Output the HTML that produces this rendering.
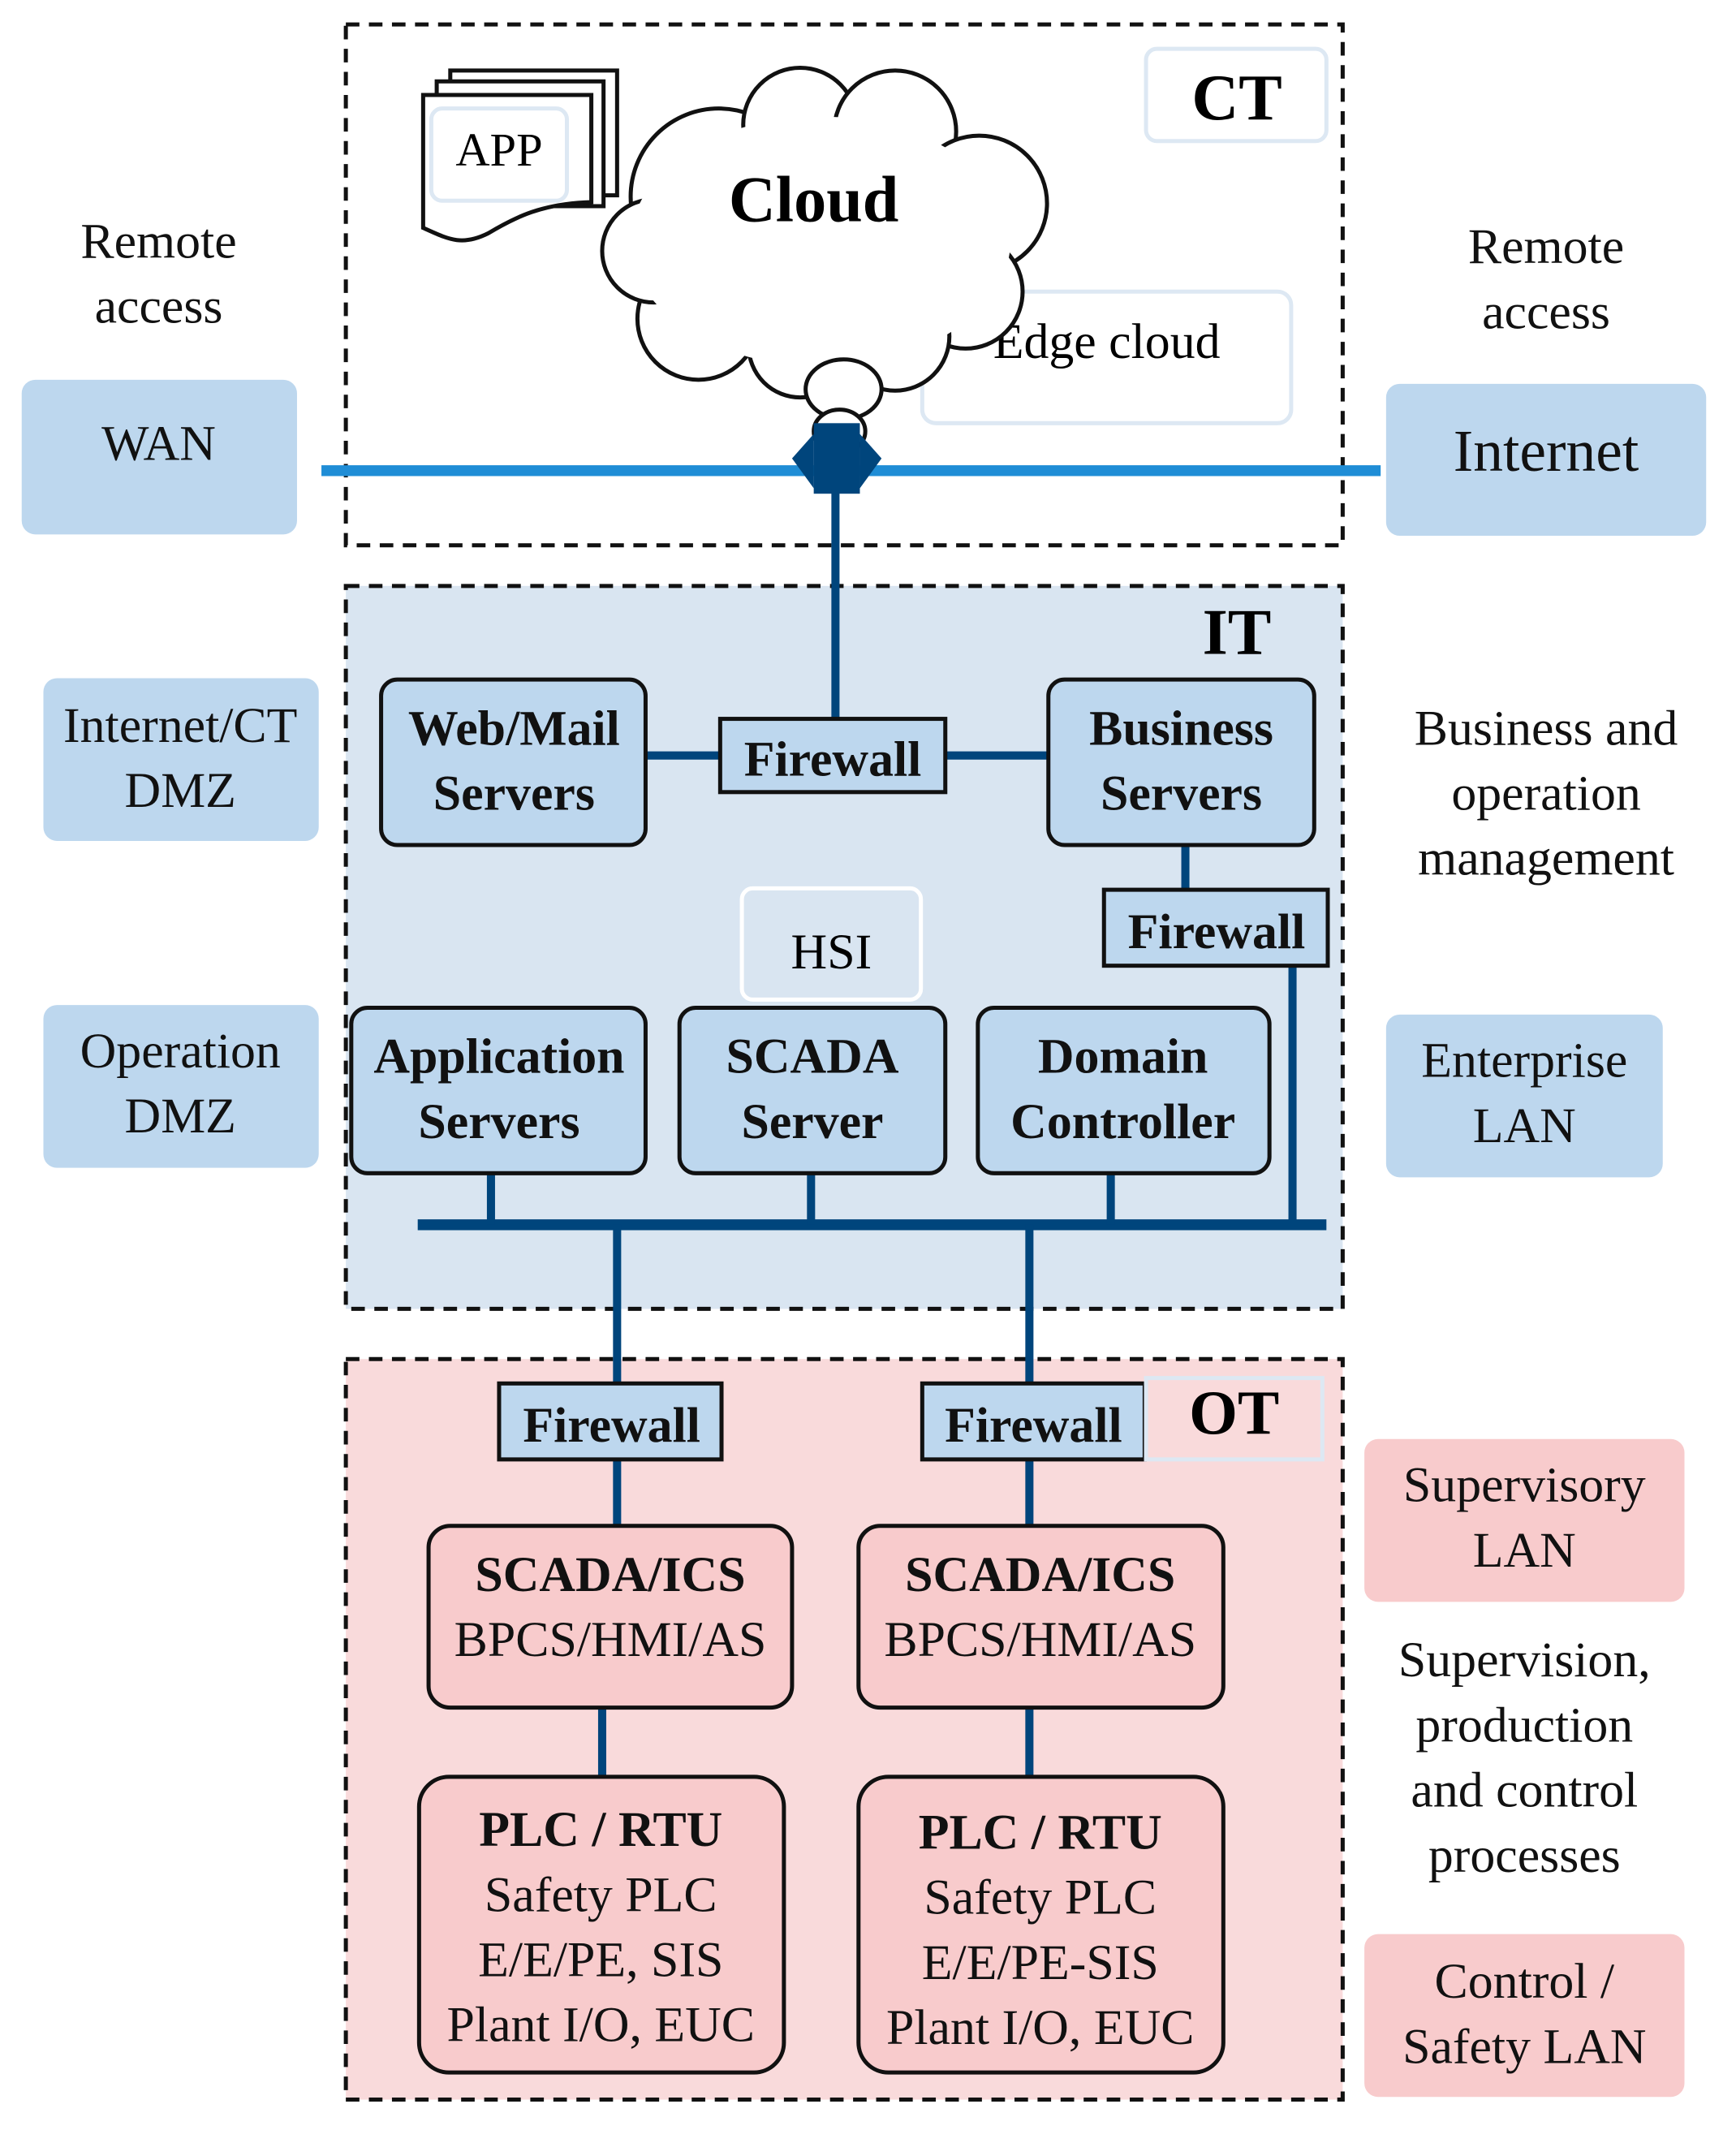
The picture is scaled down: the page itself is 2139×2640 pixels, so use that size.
<!DOCTYPE html>
<html><head><meta charset="utf-8"><style>html,body{margin:0;padding:0;background:#fff}svg{display:block}</style></head>
<body>
<svg width="2139" height="2640" viewBox="0 0 1280 1580" preserveAspectRatio="none" xmlns="http://www.w3.org/2000/svg" font-family="Liberation Serif, serif">
<!-- region boxes -->
<rect x="255" y="18" width="735" height="384" fill="#fff" stroke="#111" stroke-width="3" stroke-dasharray="10 7"/>
<rect x="255" y="432" width="735" height="533" fill="#d9e5f1" stroke="#111" stroke-width="3" stroke-dasharray="10 7"/>
<rect x="255" y="1002" width="735" height="546" fill="#f9dadb" stroke="#111" stroke-width="3" stroke-dasharray="10 7"/>

<!-- side labels -->
<g fill="#bdd7ee">
<rect x="16" y="280" width="203" height="114" rx="10"/>
<rect x="1022" y="283" width="236" height="112" rx="10"/>
<rect x="32" y="500" width="203" height="120" rx="10"/>
<rect x="32" y="741" width="203" height="120" rx="10"/>
<rect x="1022" y="748" width="204" height="120" rx="10"/>
</g>
<g fill="#f8cbcc">
<rect x="1006" y="1061" width="236" height="120" rx="10"/>
<rect x="1006" y="1426" width="236" height="120" rx="10"/>
</g>
<g font-size="37" text-anchor="middle" fill="#111">
<text x="117" y="190">Remote</text><text x="117" y="238">access</text>
<text x="1140" y="194">Remote</text><text x="1140" y="242">access</text>
<text x="117" y="339">WAN</text>
<text x="1140" y="347" font-size="44">Internet</text>
<text x="133" y="547">Internet/CT</text><text x="133" y="595">DMZ</text>
<text x="133" y="787">Operation</text><text x="133" y="835">DMZ</text>
<text x="1124" y="794">Enterprise</text><text x="1124" y="842">LAN</text>
<text x="1140" y="549">Business and</text><text x="1140" y="597">operation</text><text x="1140" y="645">management</text>
<text x="1124" y="1107">Supervisory</text><text x="1124" y="1155">LAN</text>
<text x="1124" y="1236">Supervision,</text><text x="1124" y="1284">production</text><text x="1124" y="1332">and control</text><text x="1124" y="1380">processes</text>
<text x="1124" y="1473">Control /</text><text x="1124" y="1521">Safety LAN</text>
</g>

<!-- CT contents -->
<rect x="845" y="36" width="133" height="68" rx="8" fill="#fff" stroke="#dde8f3" stroke-width="3"/>
<text x="912" y="88" font-size="48" font-weight="bold" text-anchor="middle">CT</text>
<rect x="680" y="215" width="272" height="97" rx="10" fill="#fff" stroke="#dde8f3" stroke-width="3"/>
<text x="816" y="264" font-size="37" text-anchor="middle">Edge cloud</text>
<!-- app pages -->
<rect x="332" y="52" width="123" height="92" fill="#fff" stroke="#111" stroke-width="3"/>
<rect x="322" y="60" width="123" height="92" fill="#fff" stroke="#111" stroke-width="3"/>
<path d="M312,70 H436 V149 C400,150 380,160 360,172 C340,182 330,176 312,168 Z" fill="#fff" stroke="#111" stroke-width="3"/>
<rect x="318" y="80" width="100" height="68" rx="8" fill="#fff" stroke="#dde8f3" stroke-width="3"/>
<text x="368" y="122" font-size="35" text-anchor="middle">APP</text>
<!-- cloud -->
<g fill="#fff" stroke="#111" stroke-width="3">
<circle cx="530" cy="145" r="65"/><circle cx="590" cy="92" r="42"/><circle cx="660" cy="97" r="45"/>
<circle cx="722" cy="150" r="50"/><circle cx="712" cy="215" r="42"/><circle cx="660" cy="248" r="40"/>
<circle cx="590" cy="255" r="38"/><circle cx="515" cy="235" r="45"/><circle cx="482" cy="185" r="38"/>
</g>
<ellipse cx="605" cy="178" rx="140" ry="92" fill="#fff"/>
<ellipse cx="622" cy="287" rx="28" ry="22" fill="#fff" stroke="#111" stroke-width="3"/>
<ellipse cx="619" cy="318" rx="19" ry="16" fill="#fff" stroke="#111" stroke-width="3"/>
<text x="600" y="163" font-size="48" font-weight="bold" text-anchor="middle">Cloud</text>
<!-- network line -->
<line x1="237" y1="347" x2="1018" y2="347" stroke="#1f8dd6" stroke-width="8"/>
<g fill="#00457c">
<rect x="600" y="312" width="34" height="52"/>
<polygon points="600,320 584,338 600,360"/><polygon points="634,320 650,338 634,360"/>
</g>
<g stroke="#00457c" stroke-width="6" fill="none">
<line x1="616" y1="360" x2="616" y2="530"/>
<line x1="476" y1="557" x2="531" y2="557"/><line x1="697" y1="557" x2="773" y2="557"/>
<line x1="874" y1="623" x2="874" y2="656"/>
<line x1="953" y1="712" x2="953" y2="903"/>
<line x1="308" y1="903" x2="978" y2="903" stroke-width="8"/>
<line x1="362" y1="865" x2="362" y2="903"/><line x1="598" y1="865" x2="598" y2="903"/><line x1="819" y1="865" x2="819" y2="903"/>
<line x1="455" y1="903" x2="455" y2="1020"/><line x1="759" y1="903" x2="759" y2="1020"/>
<line x1="455" y1="1076" x2="455" y2="1125"/><line x1="759" y1="1076" x2="759" y2="1125"/>
<line x1="444" y1="1260" x2="444" y2="1310"/><line x1="759" y1="1260" x2="759" y2="1310"/>
</g>

<!-- IT -->
<text x="912" y="482" font-size="48" font-weight="bold" text-anchor="middle">IT</text>
<g fill="#bdd7ee" stroke="#111" stroke-width="3">
<rect x="281" y="501" width="195" height="122" rx="12"/>
<rect x="773" y="501" width="196" height="122" rx="12"/>
<rect x="531" y="530" width="166" height="54"/>
<rect x="814" y="656" width="165" height="56"/>
<rect x="259" y="743" width="217" height="122" rx="12"/>
<rect x="501" y="743" width="196" height="122" rx="12"/>
<rect x="721" y="743" width="215" height="122" rx="12"/>
<rect x="368" y="1020" width="164" height="56"/>
<rect x="680" y="1020" width="164" height="56"/>
</g>
<rect x="547" y="655" width="132" height="82" rx="8" fill="#d9e5f1" stroke="#fff" stroke-width="3"/>
<text x="613" y="714" font-size="37" text-anchor="middle">HSI</text>
<g font-size="37" font-weight="bold" text-anchor="middle" fill="#111">
<text x="379" y="549">Web/Mail</text><text x="379" y="597">Servers</text>
<text x="871" y="549">Business</text><text x="871" y="597">Servers</text>
<text x="614" y="572">Firewall</text>
<text x="897" y="699">Firewall</text>
<text x="368" y="791">Application</text><text x="368" y="839">Servers</text>
<text x="599" y="791">SCADA</text><text x="599" y="839">Server</text>
<text x="828" y="791">Domain</text><text x="828" y="839">Controller</text>
<text x="451" y="1063">Firewall</text>
<text x="762" y="1063">Firewall</text>
</g>

<!-- OT -->
<rect x="845" y="1016" width="130" height="60" fill="#f9dadb" stroke="#dde8f3" stroke-width="3"/>
<text x="910" y="1057" font-size="46" font-weight="bold" text-anchor="middle">OT</text>
<g fill="#f8cbcc" stroke="#111" stroke-width="3">
<rect x="316" y="1125" width="268" height="134" rx="16"/>
<rect x="633" y="1125" width="269" height="134" rx="16"/>
<rect x="309" y="1310" width="269" height="218" rx="22"/>
<rect x="633" y="1310" width="269" height="218" rx="22"/>
</g>
<g font-size="37" text-anchor="middle" fill="#111">
<text x="450" y="1173" font-weight="bold">SCADA/ICS</text><text x="450" y="1221">BPCS/HMI/AS</text>
<text x="767" y="1173" font-weight="bold">SCADA/ICS</text><text x="767" y="1221">BPCS/HMI/AS</text>
<text x="443" y="1361" font-weight="bold">PLC / RTU</text><text x="443" y="1409">Safety PLC</text><text x="443" y="1457">E/E/PE, SIS</text><text x="443" y="1505">Plant I/O, EUC</text>
<text x="767" y="1363" font-weight="bold">PLC / RTU</text><text x="767" y="1411">Safety PLC</text><text x="767" y="1459">E/E/PE-SIS</text><text x="767" y="1507">Plant I/O, EUC</text>
</g>
</svg>
</body></html>
